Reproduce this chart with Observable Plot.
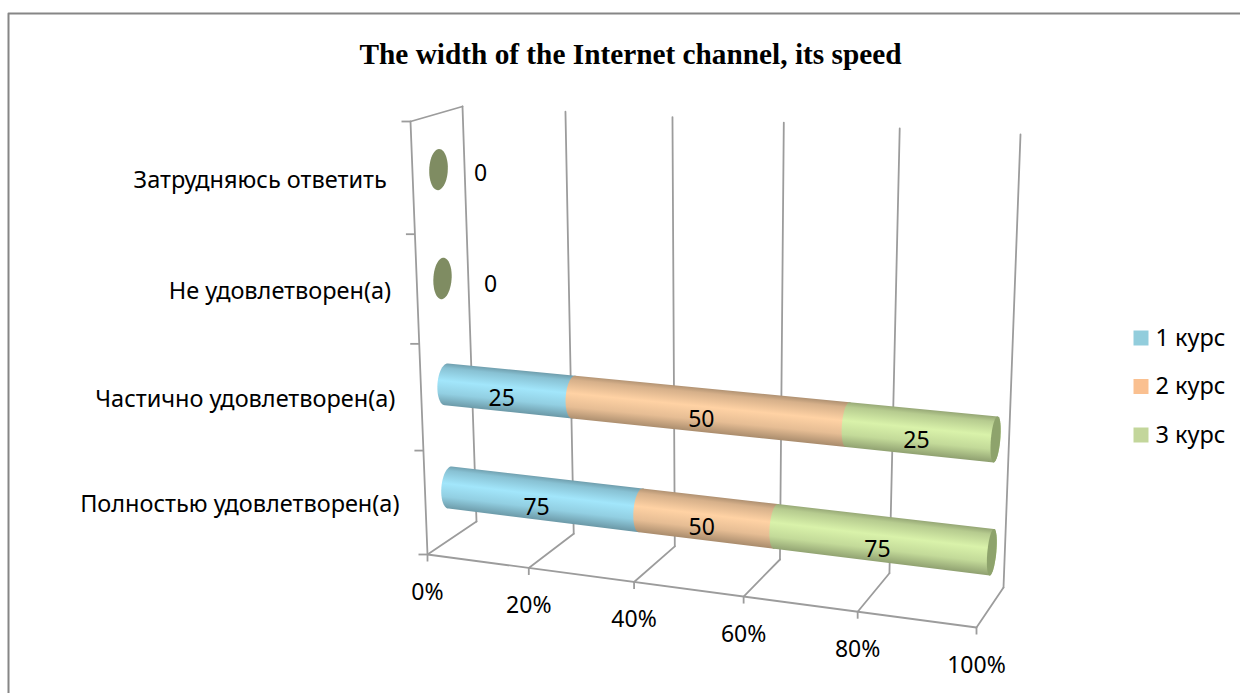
<!DOCTYPE html>
<html>
<head>
<meta charset="utf-8">
<script src="https://cdn.jsdelivr.net/npm/d3@7"></script>
<script src="https://cdn.jsdelivr.net/npm/@observablehq/plot@0.6"></script>
<style>
html,body{margin:0;padding:0;background:#fff;overflow:hidden}
svg{display:block}
</style>
</head>
<body>
<div id="chart"></div>
<script>
// --- data ---
const chartTitle = "The width of the Internet channel, its speed";
const categories = ["Полностью удовлетворен(а)", "Частично удовлетворен(а)", "Не удовлетворен(а)", "Затрудняюсь ответить"];
const seriesNames = ["1 курс", "2 курс", "3 курс"];
const course1 = [75, 25, 0, 0];
const course2 = [50, 50, 0, 0];
const course3 = [75, 25, 0, 0];
const percentTicks = [0, 20, 40, 60, 80, 100];

// --- style ---
const legendColors = ["#92cddc", "#fac090", "#c3d69b"];
const barColors = ["#a2e6fb", "#ffd2a4", "#d9f2aa"];
const shadeStops = [[0, .68], [.12, .84], [.42, 1], [.72, .9], [1, .66]];
const gridColor = "#9c9c9c";
const labelFont = "'Noto Sans', sans-serif";

// --- 3-D box of the chart, as a perspective projection (percent, level, depth) -> picture
const box = {
  f00: [427, 554], f10: [976, 627], f01: [410, 121], f11: [990, 152],
  b00: [476, 521], b10: [1003, 587], b01: [462, 106], b11: [1020, 134]
};
const warp = (t, k) => t / (k + (1 - k) * t);
const mix = (p, q, t) => [p[0] + (q[0] - p[0]) * t, p[1] + (q[1] - p[1]) * t];
function place(pu, vp, d) {
  const front = mix(mix(box.f00, box.f10, pu), mix(box.f01, box.f11, pu), vp);
  const back = mix(mix(box.b00, box.b10, pu), mix(box.b01, box.b11, pu), vp);
  return mix(front, back, d);
}
const warpU = (pct) => warp(pct / 100, 1.105);
const warpV = (lvl) => warp(lvl, 1.0556);
const project = (pct, lvl, d) => place(warpU(pct), warpV(lvl), d);
const rowLevel = (i) => (i + 0.5) / categories.length;
const pt = ([x, y], extra = {}) => ({x, y, ...extra});

const RV = 0.048, RD = 0.18, MID = 0.5;
function ring(pct, lvl) {
  const pu = warpU(pct), vp = warpV(lvl);
  return d3.range(48).map((k) => {
    const a = k / 48 * 2 * Math.PI;
    return place(pu, vp + RV * Math.sin(a), MID + RD * Math.cos(a));
  });
}

const rows = categories.map((c, i) => {
  const vals = [course1[i], course2[i], course3[i]];
  const total = d3.sum(vals);
  let acc = 0;
  const segs = vals.map((v, s) => {
    const a = total ? acc / total * 100 : 0;
    acc += v;
    const b = total ? acc / total * 100 : 0;
    return {s, v, a, b, id: `g${i}${s}`};
  });
  return {c, i, total, segs};
});

// --- marks ---
const floorLines = percentTicks.map((p) => [pt(project(p, 0, 0)), pt(project(p, 0, 1))]);
const backLines = percentTicks.map((p) => [pt(project(p, 0, 1)), pt(project(p, 1, 1))]);
const lineMark = (pts, w = 1.8) => Plot.line(pts, {x: "x", y: "y", stroke: gridColor, strokeWidth: w, curve: "linear"});

const levelTicks = d3.range(categories.length + 1).map((i) => pt(project(0, i / categories.length, 0)));
const percentTickPts = percentTicks.map((p) => pt(project(p, 0, 0), {p}));

const barMarks = [];
const gradients = [];
for (const r of rows) {
  const lvl = rowLevel(r.i);
  if (r.total === 0) {
    barMarks.push(Plot.line(ring(0, lvl).map((q) => pt(q)), {x: "x", y: "y", fill: "#7f8c62", stroke: "none", curve: "linear"}));
    continue;
  }
  const axis0 = project(0, lvl, MID), axis1 = project(100, lvl, MID);
  const len = Math.hypot(axis1[0] - axis0[0], axis1[1] - axis0[1]);
  const n = [-(axis1[1] - axis0[1]) / len, (axis1[0] - axis0[0]) / len];
  for (const seg of r.segs) {
    const hull = d3.polygonHull([...ring(seg.a, lvl), ...ring(seg.b, lvl)]);
    const c = project((seg.a + seg.b) / 2, lvl, MID);
    const offs = hull.map((q) => (q[0] - c[0]) * n[0] + (q[1] - c[1]) * n[1]);
    const lo = d3.min(offs), hi = d3.max(offs);
    gradients.push({id: seg.id, color: barColors[seg.s],
      x1: c[0] + n[0] * lo, y1: c[1] + n[1] * lo, x2: c[0] + n[0] * hi, y2: c[1] + n[1] * hi});
    barMarks.push(Plot.line(hull.map((q) => pt(q)), {x: "x", y: "y", fill: `url(#${seg.id})`, stroke: "none", curve: "linear"}));
  }
  barMarks.push(Plot.line(ring(100, lvl).map((q) => pt(q)), {x: "x", y: "y", fill: "#8ea36c", stroke: "none", curve: "linear"}));
}

const defsMark = () => {
  const defs = d3.create("svg:defs");
  for (const g of gradients) {
    const lg = defs.append("linearGradient").attr("id", g.id).attr("gradientUnits", "userSpaceOnUse")
      .attr("x1", g.x1).attr("y1", g.y1).attr("x2", g.x2).attr("y2", g.y2);
    for (const [o, f] of shadeStops) {
      const col = d3.rgb(g.color);
      lg.append("stop").attr("offset", o).attr("stop-color", d3.rgb(col.r * f, col.g * f, col.b * f).formatHex());
    }
  }
  return defs.node();
};

const valueLabels = rows.filter((r) => r.total).flatMap((r) =>
  r.segs.map((seg) => pt(project((seg.a + seg.b) / 2, rowLevel(r.i), 0.3), {t: String(seg.v)})));
const zeroShift = {2: [48, 6], 3: [42, 4]};
const zeroLabels = rows.filter((r) => !r.total).map((r) => {
  const [x, y] = project(0, rowLevel(r.i), MID);
  return {x: x + zeroShift[r.i][0], y: y + zeroShift[r.i][1], t: "0"};
});
const catLabels = rows.map((r) => pt(project(0, rowLevel(r.i), 0), {t: r.c}));
const legendRows = seriesNames.map((t, i) => ({t, i, color: legendColors[i]}));

const chart = Plot.plot({
  width: 1240, height: 693, margin: 0,
  x: {type: "linear", domain: [0, 1240], range: [0, 1240], axis: null},
  y: {type: "linear", domain: [0, 693], range: [0, 693], axis: null},
  style: {background: "#fff", overflow: "visible"},
  marks: [
    defsMark,
    // outer chart-area border
    Plot.line([{x: 8, y: 693}, {x: 8, y: 13}, {x: 1240, y: 13}], {x: "x", y: "y", stroke: "#868686", strokeWidth: 2, curve: "linear"}),
    ...backLines.map((l) => lineMark(l)),
    ...floorLines.map((l) => lineMark(l)),
    lineMark([pt(project(0, 0, 0)), pt(project(100, 0, 0))]),
    lineMark([pt(project(0, 0, 0)), pt(project(0, 1, 0))]),
    lineMark([pt(project(0, 1, 0)), pt(project(0, 1, 1))]),
    Plot.link(levelTicks, {x1: (d) => d.x - 9, y1: "y", x2: "x", y2: "y", stroke: gridColor, strokeWidth: 1.8}),
    Plot.link(percentTickPts, {x1: "x", y1: "y", x2: "x", y2: (d) => d.y + 7, stroke: gridColor, strokeWidth: 1.8}),
    ...barMarks,
    Plot.text(valueLabels, {x: "x", y: "y", text: "t", dx: 2, dy: 3, fontSize: 23, fill: "#000", fontFamily: labelFont}),
    Plot.text(zeroLabels, {x: "x", y: "y", text: "t", fontSize: 23, fill: "#000", fontFamily: labelFont}),
    Plot.text(catLabels, {x: "x", y: "y", text: "t", dx: -26, dy: 2, textAnchor: "end", fontSize: 23.5, fill: "#000", fontFamily: labelFont}),
    Plot.text(percentTickPts, {x: "x", y: "y", text: (d) => d.p + "%", dy: 38, fontSize: 23, fill: "#000", fontFamily: labelFont}),
    Plot.text([chartTitle], {x: () => 630, y: () => 54, text: (d) => d, fontSize: 29.3, fontWeight: "bold", fill: "#000", fontFamily: "'Liberation Serif', serif"}),
    Plot.dot(legendRows, {x: () => 1140.5, y: (d) => 337.5 + d.i * 48.5, symbol: "square", r: 8.46, fill: "color", stroke: "none"}),
    Plot.text(legendRows, {x: () => 1155, y: (d) => 337.5 + d.i * 48.5, text: "t", textAnchor: "start", fontSize: 23.5, fill: "#000", fontFamily: labelFont})
  ]
});
document.getElementById("chart").append(chart);
</script>
</body>
</html>
